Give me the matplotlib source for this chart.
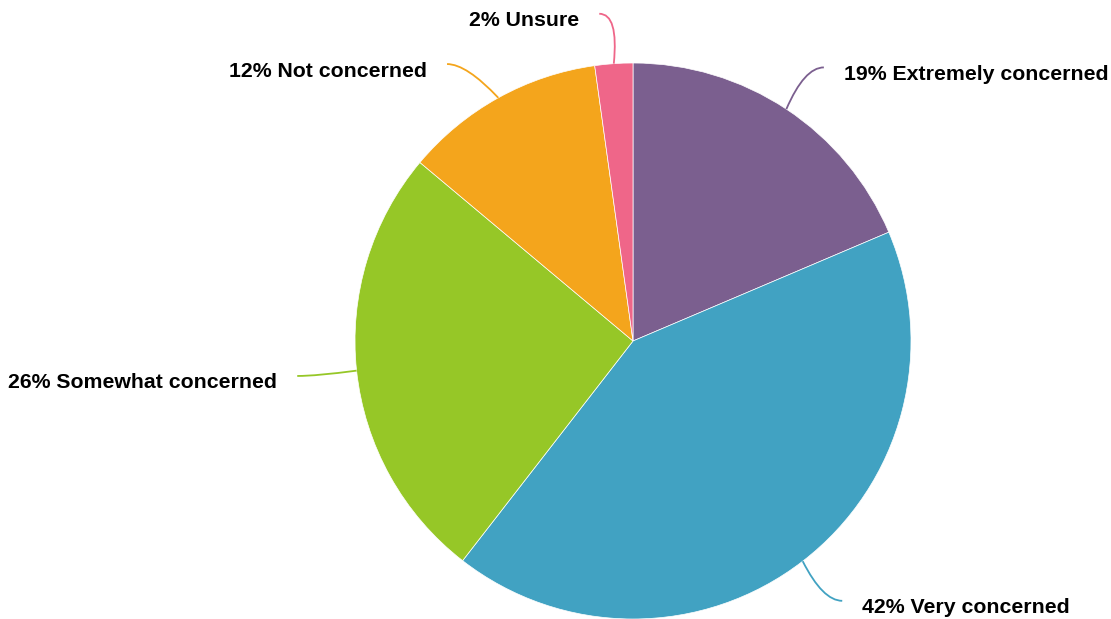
import numpy as np
import matplotlib
matplotlib.use("Agg")
import matplotlib.pyplot as plt
from matplotlib.path import Path
from matplotlib.patches import PathPatch

labels = ["Extremely concerned", "Very concerned", "Somewhat concerned",
          "Not concerned", "Unsure"]
values = [18.6, 41.9, 25.6, 11.7, 2.2]
colors = ["#7b5f8f", "#41a2c2", "#96c727", "#f4a51c", "#ef6689"]

# small manual nudges of the label anchors (pixels), to mimic the original layout
nudge_x = [0, 0, -4, 0, 31]
nudge_y = [0, 0, 0, -10, 0]

W, H = 1111, 619
cx, cy, R = 633, 341, 278  # pie centre / radius in pixels

fig = plt.figure(figsize=(W / 100, H / 100), dpi=100)
ax = fig.add_axes([0, 0, 1, 1])

wedges, _ = ax.pie(values, colors=colors, startangle=90, counterclock=False,
                   radius=1.0, center=(0, 0), frame=True,
                   wedgeprops=dict(edgecolor="white", linewidth=0.5))
ax.set_xlim(-cx / R, (W - cx) / R)
ax.set_ylim(-(H - cy) / R, cy / R)
ax.axis("off")

for i, w in enumerate(wedges):
    col = colors[i]
    ang = np.deg2rad((w.theta1 + w.theta2) / 2)
    c, s = np.cos(ang), np.sin(ang)
    sign = 1 if c >= 0 else -1
    p0 = (c, s)
    ey = 1.18 * s + nudge_y[i] / R
    ex = sign * np.sqrt(max(1.2 ** 2 - ey ** 2, 0)) + nudge_x[i] / R
    p2 = (ex, ey)
    p1 = (ex - sign * 0.07, ey)
    path = Path([p0, p1, p2], [Path.MOVETO, Path.CURVE3, Path.CURVE3])
    ax.add_patch(PathPatch(path, fc="none", ec=col, lw=1.3))
    ax.text(ex + sign * 20 / R, ey - 7 / R, f"{values[i]:.0f}% {labels[i]}",
            ha="left" if sign > 0 else "right", va="center",
            fontsize=15.3, fontweight="bold", family="Liberation Sans",
            color="black")

fig.savefig("out.png", dpi=100)
